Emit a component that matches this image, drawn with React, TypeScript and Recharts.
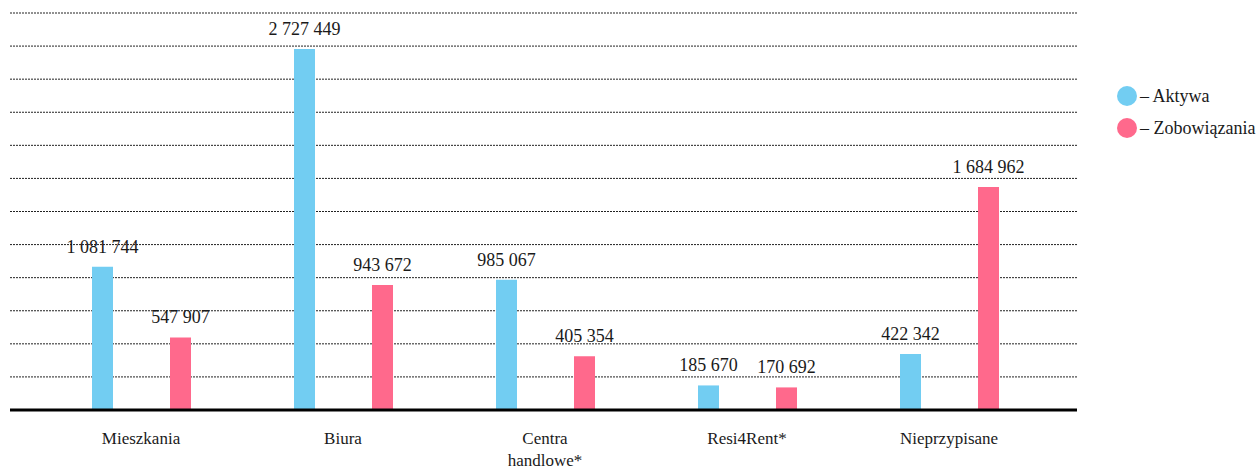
import {
  BarChart,
  Bar,
  XAxis,
  YAxis,
  CartesianGrid,
  LabelList,
  Legend,
  Text,
} from "recharts";

const categories = [
  "Mieszkania",
  "Biura",
  "Centra handlowe*",
  "Resi4Rent*",
  "Nieprzypisane",
];
const aktywa = [1081744, 2727449, 985067, 185670, 422342];
const zobowiazania = [547907, 943672, 405354, 170692, 1684962];
const yTicks = [
  0, 250000, 500000, 750000, 1000000, 1250000, 1500000, 1750000, 2000000,
  2250000, 2500000, 2750000, 3000000,
];

const BLUE = "#72cdf2";
const PINK = "#ff698c";
const FONT = "Liberation Serif";

const data = categories.map((name, i) => ({
  name,
  aktywa: aktywa[i],
  zobowiazania: zobowiazania[i],
}));

// non-breaking spaces as thousand separators: 1 081 744
const fmt = (v: number) =>
  String(v).replace(/\B(?=(\d{3})+(?!\d))/g, "\u00a0");

const CategoryTick = ({ x, y, payload }: any) => (
  <Text
    x={x}
    y={y + 14}
    width={100}
    textAnchor="middle"
    verticalAnchor="start"
    lineHeight={22}
    fontSize={17}
    fontFamily={FONT}
    fill="#1a1a1a"
  >
    {payload.value}
  </Text>
);

const legendItems = [
  { label: "– Aktywa", color: BLUE },
  { label: "– Zobowiązania", color: PINK },
];

const LegendBox = () => (
  <div style={{ fontFamily: FONT, fontSize: 18, color: "#1a1a1a" }}>
    {legendItems.map((it) => (
      <div
        key={it.label}
        style={{ display: "flex", alignItems: "center", height: 32 }}
      >
        <span
          style={{
            width: 20,
            height: 20,
            borderRadius: 10,
            background: it.color,
            marginRight: 3,
          }}
        />
        <span>{it.label}</span>
      </div>
    ))}
  </div>
);

const valueLabel = (key: string) => (
  <LabelList
    dataKey={key}
    position="top"
    offset={14}
    formatter={(v: any) => fmt(Number(v))}
    style={{ fontFamily: FONT, fontSize: 18, fill: "#1a1a1a" }}
  />
);

export default function App() {
  return (
    <>
      <style>{`body{margin:0}`}</style>
      <BarChart
        width={1257}
        height={470}
        data={data}
        margin={{ top: 13, right: 40, bottom: 30, left: 10 }}
        barSize={21}
        barGap={57}
      >
        <CartesianGrid
          vertical={false}
          stroke="#222"
          strokeDasharray="2 1"
        />
        <XAxis
          dataKey="name"
          tickLine={false}
          axisLine={{ stroke: "#000", strokeWidth: 3 }}
          padding={{ left: 30, right: 27 }}
          interval={0}
          tick={<CategoryTick />}
        />
        <YAxis hide domain={[0, 3000000]} ticks={yTicks} />
        <Legend
          layout="vertical"
          align="right"
          verticalAlign="top"
          content={<LegendBox />}
          wrapperStyle={{ left: 1117, top: 80, width: 140 }}
        />
        <Bar dataKey="aktywa" fill={BLUE} isAnimationActive={false}>
          {valueLabel("aktywa")}
        </Bar>
        <Bar dataKey="zobowiazania" fill={PINK} isAnimationActive={false}>
          {valueLabel("zobowiazania")}
        </Bar>
      </BarChart>
    </>
  );
}
